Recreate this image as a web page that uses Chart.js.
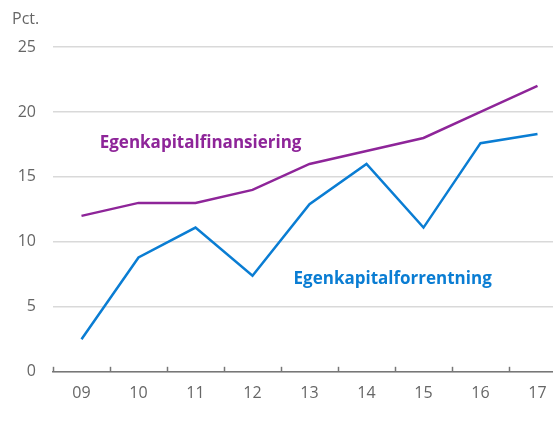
<!DOCTYPE html>
<html>
<head>
<meta charset="utf-8">
<script src="https://cdn.jsdelivr.net/npm/chart.js@4"></script>
<style>
  html, body { margin: 0; padding: 0; background: #fff; overflow: hidden; }
  #wrap { position: relative; width: 566px; height: 429px; }
</style>
</head>
<body>
<div id="wrap"><canvas id="chart"></canvas></div>
<script>
// Data
const years = ['09', '10', '11', '12', '13', '14', '15', '16', '17'];
const finansiering = [12, 13, 13, 14, 16, 17, 18, 20, 22];
const forrentning = [2.5, 8.8, 11.1, 7.4, 12.9, 16.0, 11.1, 17.6, 18.3];
const yTicks = [0, 5, 10, 15, 20, 25];

const purple = '#8E2599';
const blue = '#0A7DD3';
const tickFont = { family: 'Open Sans', size: 16 };

// Series labels, tick marks and unit text
const extras = {
    id: 'extras',
    afterDraw(chart) {
        const ctx = chart.ctx;
        const x = chart.scales.x;
        const y = chart.scales.y;
        ctx.save();

        // small inward tick marks on x axis
        ctx.strokeStyle = '#777';
        ctx.lineWidth = 1.5;
        const n = years.length;
        for (let i = 0; i <= n; i++) {
            const px = Math.round(x.left + i * (x.right - x.left) / n) + 0.5;
            ctx.beginPath();
            ctx.moveTo(px, y.bottom);
            ctx.lineTo(px, y.bottom - 5);
            ctx.stroke();
        }

        ctx.font = 'bold 17px "Open Sans"';
        ctx.textBaseline = 'middle';
        ctx.fillStyle = purple;
        ctx.fillText('Egenkapitalfinansiering', x.getPixelForValue(0.32), y.getPixelForValue(17.6));
        ctx.fillStyle = blue;
        ctx.fillText('Egenkapitalforrentning', x.getPixelForValue(3.72), y.getPixelForValue(7.1));

        ctx.font = '16px "Open Sans"';
        ctx.fillStyle = '#666';
        ctx.textAlign = 'left';
        ctx.fillText('Pct.', 12, 19);
        ctx.restore();
    }
};

new Chart(document.getElementById('chart'), {
    type: 'line',
    data: {
        labels: years,
        datasets: [
            {
                label: 'Egenkapitalfinansiering',
                data: finansiering,
                borderColor: purple,
                borderWidth: 2.5,
                pointRadius: 0,
                tension: 0
            },
            {
                label: 'Egenkapitalforrentning',
                data: forrentning,
                borderColor: blue,
                borderWidth: 2.5,
                pointRadius: 0,
                tension: 0
            }
        ]
    },
    options: {
        responsive: true,
        maintainAspectRatio: false,
        animation: false,
        layout: { padding: { top: 47, right: 0, bottom: 14, left: 0 } },
        plugins: {
            legend: { display: false },
            tooltip: { enabled: false }
        },
        scales: {
            x: {
                offset: true,
                grid: { display: false, drawTicks: false },
                border: { display: true, color: '#777', width: 1.5 },
                ticks: { color: '#666', font: tickFont, padding: 12, maxRotation: 0 }
            },
            y: {
                min: 0,
                max: 25,
                afterBuildTicks: (axis) => { axis.ticks = yTicks.map(v => ({ value: v })); },
                afterFit: (axis) => { axis.width = 53; },
                grid: { color: '#d9d9d9', lineWidth: 1.5, drawTicks: false },
                border: { display: false },
                ticks: { color: '#666', font: tickFont, padding: 17 }
            }
        }
    },
    plugins: [extras]
});
</script>
</body>
</html>
